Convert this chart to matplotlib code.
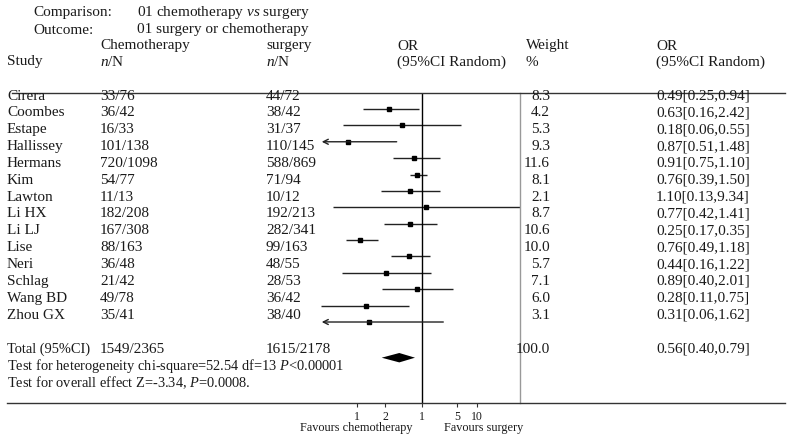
import matplotlib
matplotlib.use("Agg")
import matplotlib.pyplot as plt

# ---------------- data ----------------
studies = ["Cirera", "Coombes", "Estape", "Hallissey", "Hermans", "Kim", "Lawton",
           "Li HX", "Li LJ", "Lise", "Neri", "Schlag", "Wang BD", "Zhou GX"]
chemo_nN = ["33/76", "36/42", "16/33", "101/138", "720/1098", "54/77", "11/13",
            "182/208", "167/308", "88/163", "36/48", "21/42", "49/78", "35/41"]
surgery_nN = ["44/72", "38/42", "31/37", "110/145", "588/869", "71/94", "10/12",
              "192/213", "282/341", "99/163", "48/55", "28/53", "36/42", "38/40"]
weights = ["8.3", "4.2", "5.3", "9.3", "11.6", "8.1", "2.1",
           "8.7", "10.6", "10.0", "5.7", "7.1", "6.0", "3.1"]
or_text = ["0.49[0.25,0.94]", "0.63[0.16,2.42]", "0.18[0.06,0.55]", "0.87[0.51,1.48]",
           "0.91[0.75,1.10]", "0.76[0.39,1.50]", "1.10[0.13,9.34]", "0.77[0.42,1.41]",
           "0.25[0.17,0.35]", "0.76[0.49,1.18]", "0.44[0.16,1.22]", "0.89[0.40,2.01]",
           "0.28[0.11,0.75]", "0.31[0.06,1.62]"]

# plotted positions (as drawn in the figure, OR scale)
plot_est = [0.261, 0.434, 0.0471, 0.729, 0.804, 0.610, 1.164,
            0.610, 0.0791, 0.586, 0.225, 0.804, 0.0988, 0.1146]
plot_lo = [0.0873, 0.0393, 0.0162, 0.300, 0.610, 0.183, 0.0261,
           0.210, 0.0434, 0.276, 0.0368, 0.191, 0.0158, 0.0162]
plot_hi = [0.895, 4.91, 0.353, 2.10, 1.21, 2.10, 56.2,
           1.83, 0.162, 1.39, 1.45, 3.53, 0.593, 2.40]
arrow_left = [False, False, True, False, False, False, False,
              False, False, False, False, False, False, True]

total_chemo = "1549/2365"
total_surgery = "1615/2178"
total_weight = "100.0"
total_or = "0.56[0.40,0.79]"
total_est, total_lo, total_hi = 0.393, 0.1906, 0.75

tick_vals = [0.068, 0.22, 1.0, 4.3, 9.5]
tick_labels = ["1", "2", "1", "5", "10"]

# ---------------- style ----------------
plt.rcParams['font.family'] = ['Liberation Serif', 'DejaVu Serif']
plt.rcParams['mathtext.fontset'] = 'custom'
plt.rcParams['mathtext.rm'] = 'Liberation Serif'
plt.rcParams['mathtext.it'] = 'Liberation Serif:italic'

W, H = 791, 440
fig = plt.figure(figsize=(W / 100, H / 100), dpi=100)
TC = '#1a1a1a'
FS = 11


def T(x, y, s, ha='left', fs=FS, **kw):
    fig.text(x / W, 1 - y / H, s, ha=ha, va='center', fontsize=fs, color=TC, **kw)


# header
T(33, 12.5, "Comparison:")
T(137, 12.5, "01 chemotherapy $vs$ surgery")
T(33, 30, "Outcome:")
T(137, 30, "01 surgery or chemotherapy")
T(100, 46, "Chemotherapy")
T(266, 46, "surgery")
T(397, 46, "OR")
T(526, 46, "Weight")
T(656, 46, "OR")
T(7, 62, "Study")
T(100, 62, "$n$/N")
T(266, 62, "$n$/N")
T(397, 62, "(95%CI Random)")
T(526, 62, "%")
T(656, 62, "(95%CI Random)")

# study rows
for i in range(len(studies)):
    y = 96 + 16.85 * i
    T(7, y, studies[i])
    T(100, y, chemo_nN[i])
    T(266, y, surgery_nN[i])
    T(550, y, weights[i], ha='right')
    T(656, y, or_text[i])

T(7, 349, "Total (95%CI)", fs=10.4)
T(100, 349, total_chemo)
T(266, 349, total_surgery)
T(550, 349, total_weight, ha='right')
T(656, 349, total_or)
T(7, 365.7, "Test for heterogeneity chi-square=52.54 df=13 $P$<0.00001", fs=10.4)
T(7, 382.3, "Test for overall effect Z=-3.34, $P$=0.0008.", fs=10.4)

# horizontal rules
fig.add_artist(plt.Line2D([12 / W, 785 / W], [1 - 93.3 / H] * 2, color='#333333', lw=1))
fig.add_artist(plt.Line2D([7 / W, 785 / W], [1 - 403.3 / H] * 2, color='#333333', lw=1))

# forest axes
ax = fig.add_axes([300 / W, 1 - 403.3 / H, 220 / W, 310 / H])
ax.set_xscale('log')
ax.set_xlim(10 ** (-122 / 56), 10 ** (98 / 56))
ax.set_ylim((403.3 - 109) / 16.385, -(109 - 93.3) / 16.385)
ax.patch.set_alpha(0)
for s in ax.spines.values():
    s.set_visible(False)

for i in range(len(studies)):
    if arrow_left[i]:
        ax.annotate('', xy=(plot_lo[i], i), xytext=(plot_hi[i], i),
                    arrowprops=dict(arrowstyle='->', lw=1, color='#222222',
                                    shrinkA=0, shrinkB=0, mutation_scale=9))
    else:
        ax.plot([plot_lo[i], plot_hi[i]], [i, i], color='#222222', lw=1, solid_capstyle='butt')
    ax.plot(plot_est[i], i, marker='s', ms=3, color='black', mec='black')

yd = (357.7 - 109) / 16.385
hd = 4.7 / 16.385
ax.fill([total_lo, total_est, total_hi, total_est], [yd, yd - hd, yd, yd + hd],
        color='black', lw=0)

ax.axvline(1.0, color='black', lw=1)
ax.axvline(ax.get_xlim()[1], color='#999999', lw=1, clip_on=False)

ax.set_yticks([])
ax.set_xticks(tick_vals)
ax.set_xticklabels(tick_labels, fontsize=8.5, color=TC)
ax.minorticks_off()
ax.tick_params(axis='x', length=3, width=0.8, color='#333333', pad=2.5)

T(356, 428, "Favours chemotherapy", ha='center', fs=8.8)
T(484, 428, "Favours surgery", ha='center', fs=8.8)

fig.savefig("out.png", dpi=100)
